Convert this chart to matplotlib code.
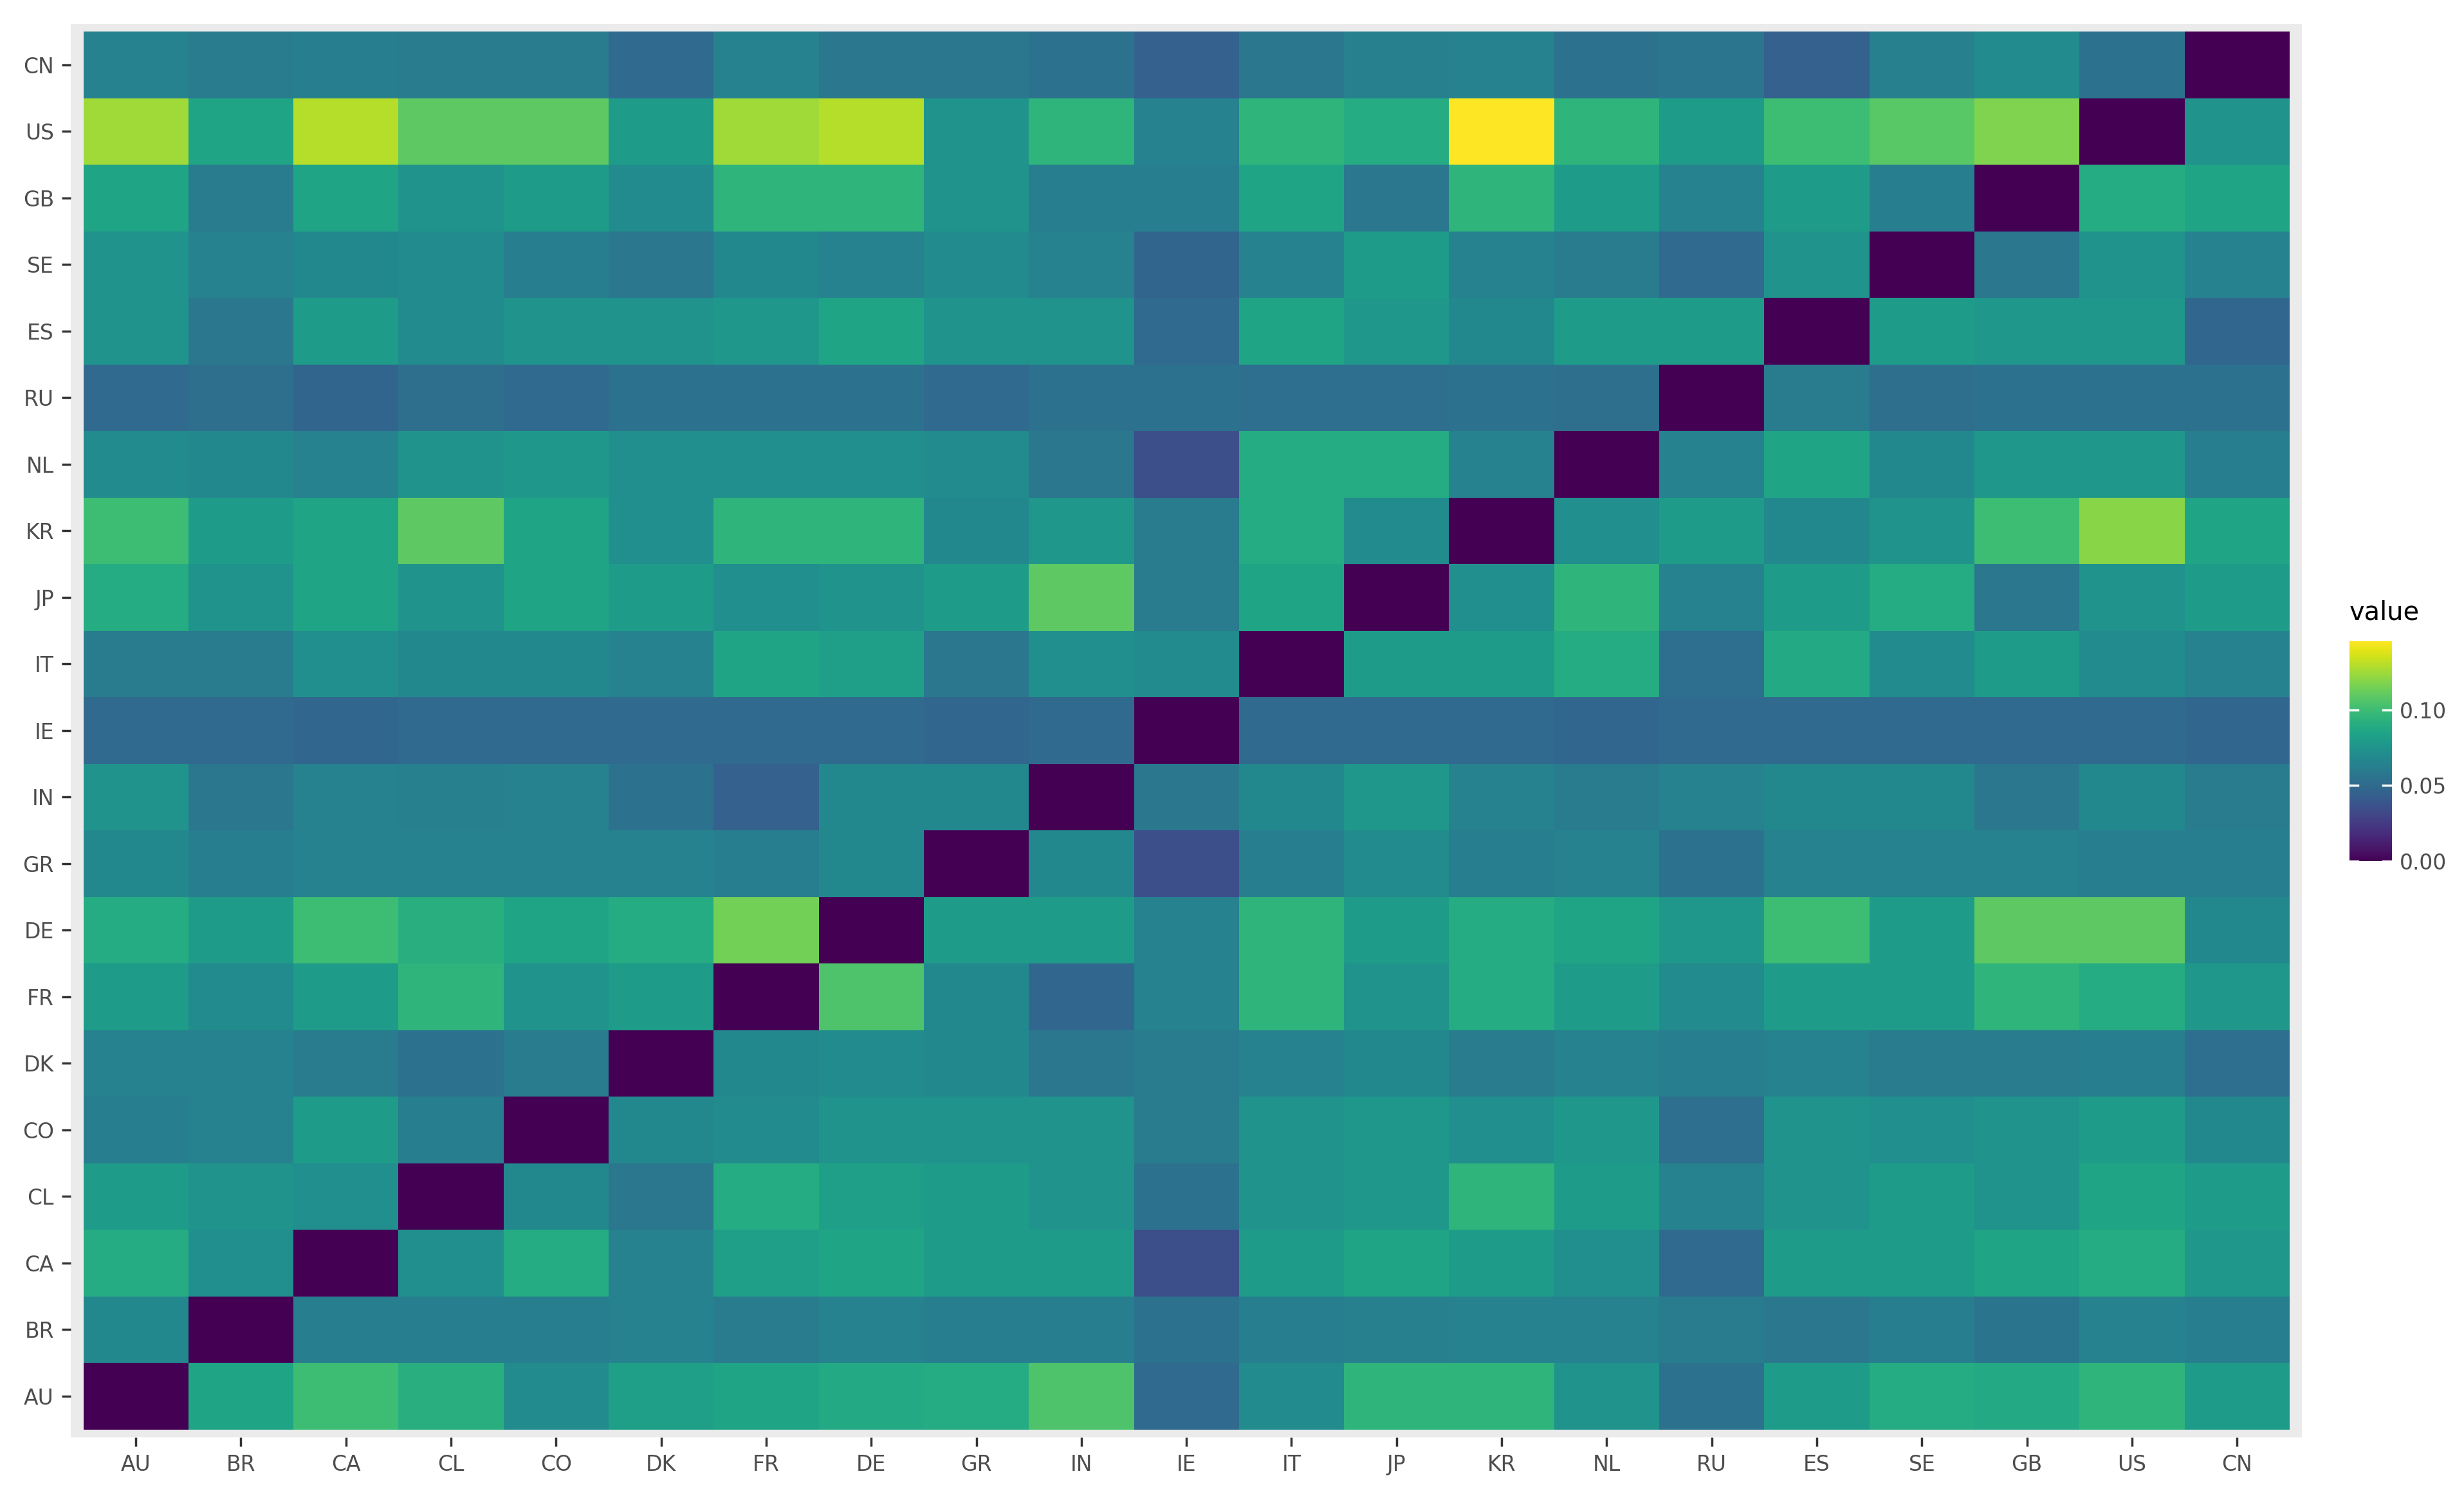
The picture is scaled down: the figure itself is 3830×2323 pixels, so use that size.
import numpy as np
import matplotlib
matplotlib.use("Agg")
import matplotlib.pyplot as plt

countries = ["AU","BR","CA","CL","CO","DK","FR","DE","GR","IN","IE","IT","JP","KR","NL","RU","ES","SE","GB","US","CN"]

row_AU = [0,.085,.1,.092,.07,.082,.085,.088,.09,.105,.05,.07,.095,.095,.075,.055,.08,.09,.088,.095,.08]
row_BR = [.068,0,.062,.062,.062,.065,.06,.065,.062,.062,.055,.062,.063,.065,.065,.06,.058,.062,.056,.065,.062]
row_CA = [.09,.072,0,.072,.09,.065,.082,.085,.08,.08,.035,.08,.085,.08,.072,.05,.08,.08,.085,.09,.078]
row_CL = [.08,.075,.072,0,.068,.058,.09,.082,.08,.075,.055,.075,.078,.095,.08,.065,.075,.08,.075,.085,.08]
row_CO = [.062,.065,.08,.062,0,.068,.07,.075,.075,.075,.06,.075,.078,.072,.078,.052,.075,.072,.075,.08,.068]
row_DK = [.065,.065,.06,.055,.06,0,.068,.07,.068,.058,.06,.065,.068,.06,.065,.062,.065,.06,.06,.062,.052]
row_FR = [.08,.07,.08,.095,.075,.08,0,.105,.068,.048,.065,.095,.075,.09,.08,.07,.08,.08,.095,.09,.078]
row_DE = [.09,.08,.1,.092,.085,.09,.115,0,.08,.08,.065,.095,.08,.09,.085,.078,.1,.08,.11,.11,.068]
row_GR = [.068,.062,.065,.065,.065,.065,.062,.068,0,.068,.035,.062,.07,.062,.065,.055,.065,.065,.065,.062,.062]
row_IN = [.075,.058,.065,.063,.065,.055,.045,.068,.068,0,.058,.068,.078,.065,.06,.065,.068,.068,.058,.068,.06]
row_IE = [.05,.05,.048,.05,.05,.05,.05,.05,.048,.05,0,.05,.05,.05,.048,.05,.05,.05,.05,.05,.048]
row_IT = [.06,.06,.072,.068,.068,.065,.085,.082,.058,.072,.07,0,.08,.08,.09,.052,.088,.07,.08,.07,.065]
row_JP = [.09,.075,.085,.075,.085,.08,.072,.075,.08,.11,.06,.085,0,.072,.095,.065,.08,.09,.058,.075,.08]
row_KR = [.1,.08,.085,.11,.085,.072,.095,.095,.068,.078,.06,.09,.07,0,.072,.08,.068,.075,.1,.12,.085]
row_NL = [.07,.068,.065,.075,.078,.072,.072,.072,.07,.058,.035,.09,.09,.065,0,.065,.085,.068,.078,.078,.062]
row_RU = [.05,.053,.047,.053,.05,.055,.055,.055,.05,.055,.055,.052,.052,.055,.053,0,.06,.053,.055,.055,.055]
row_ES = [.075,.058,.08,.07,.075,.075,.078,.085,.075,.075,.05,.085,.078,.068,.08,.08,0,.08,.078,.078,.048]
row_SE = [.075,.065,.068,.07,.062,.058,.068,.065,.07,.065,.047,.065,.08,.065,.06,.05,.075,0,.058,.075,.065]
row_GB = [.085,.06,.085,.075,.08,.07,.095,.095,.075,.062,.062,.085,.058,.095,.08,.065,.08,.062,0,.09,.085]
row_US = [.125,.085,.13,.11,.11,.08,.125,.13,.075,.095,.065,.095,.09,.146,.095,.08,.1,.108,.118,0,.075]
row_CN = [.065,.06,.062,.06,.06,.05,.065,.058,.058,.055,.045,.058,.063,.065,.055,.057,.045,.063,.07,.055,0]

rows = [row_AU,row_BR,row_CA,row_CL,row_CO,row_DK,row_FR,row_DE,row_GR,row_IN,row_IE,
        row_IT,row_JP,row_KR,row_NL,row_RU,row_ES,row_SE,row_GB,row_US,row_CN]
Z = np.array(rows)

fig = plt.figure(figsize=(15.32, 9.292), dpi=250)
W, H = 1568, 951
ax = fig.add_axes([45/W, 1-915/H, (1465-45)/W, (915-15)/H])
ax.set_facecolor("#EBEBEB")
n = len(countries)
x = np.arange(n + 1) - 0.5
mesh = ax.pcolormesh(x, x, Z, cmap="viridis", vmin=0, vmax=Z.max())
ax.set_xlim(-0.62, n - 0.38)
ax.set_ylim(-0.62, n - 0.38)
ax.set_xticks(range(n)); ax.set_xticklabels(countries)
ax.set_yticks(range(n)); ax.set_yticklabels(countries)
ax.tick_params(colors="#333333", labelcolor="#4D4D4D", labelsize=9.5, length=4, width=1)
for s in ax.spines.values():
    s.set_visible(False)

cax = fig.add_axes([1495/W, 1-548/H, 27/W, 140/H])
cb = fig.colorbar(mesh, cax=cax, ticks=[0, 0.05, 0.10])
cb.ax.set_yticklabels(["0.00", "0.05", "0.10"])
cb.outline.set_visible(False)
cb.ax.tick_params(labelsize=9.5, labelcolor="#4D4D4D", length=0)
for t in [0, 0.05, 0.10]:
    cb.ax.axhline(t, xmin=0, xmax=0.2, color="white", lw=1)
    cb.ax.axhline(t, xmin=0.8, xmax=1, color="white", lw=1)
fig.text(1495/W, 1-390/H, "value", fontsize=11.5, color="black", va="center")

fig.savefig("out.png", dpi=250, facecolor="white")
